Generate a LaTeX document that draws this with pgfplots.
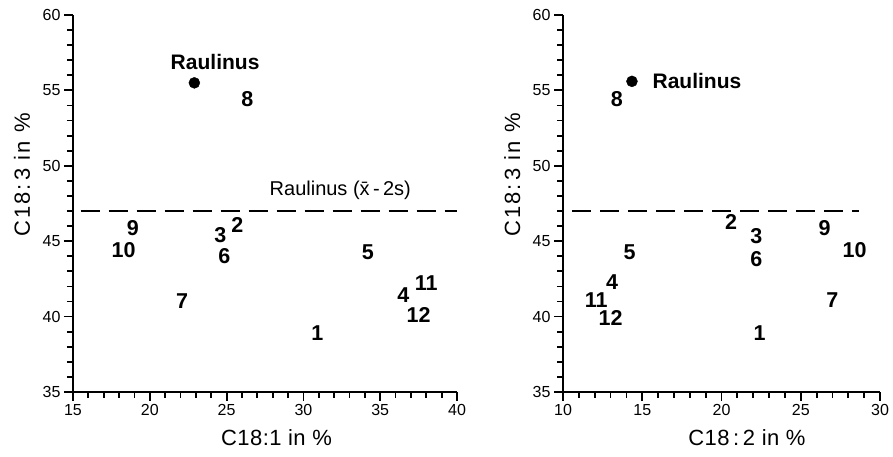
\documentclass[border=0pt]{standalone}
\usepackage{fontspec}
\setmainfont{Liberation Sans}
\usepackage{pgfplots}
\pgfplotsset{compat=1.18}
\newcommand{\lblfont}{\fontsize{22}{22}\selectfont\addfontfeatures{LetterSpace=9}}
\newcommand{\xlblfont}{\fontsize{22}{22}\selectfont\addfontfeatures{LetterSpace=2}}
\pgfplotsset{
  myax/.style={
    scale only axis, height=377pt,
    axis lines=left,
    axis line style={-, black, line width=2.8pt},
    tick style={black, line width=1.8pt},
    ymin=35, ymax=60, ytick={35,40,...,60}, minor y tick num=4, minor x tick num=4,
    tick align=outside, major tick length=9pt, minor tick length=6pt,
    tick label style={font=\fontsize{16}{16}\selectfont},
    /pgf/number format/assume math mode=true,
    clip=false,
    anchor=south west,
  },
  pts/.style={only marks, mark=none, nodes near coords, point meta=explicit symbolic,
    every node near coord/.style={anchor=center, inner sep=0pt, font=\fontsize{21.5}{21.5}\selectfont\bfseries}},
  dsh/.style={black, line width=2pt, dash pattern=on 19pt off 9pt},
}
\begin{document}
\begin{tikzpicture}
\useasboundingbox (0,0) rectangle (893pt,457pt);
% left
\begin{axis}[myax, at={(73pt,65pt)}, width=384pt,
  xmin=15, xmax=40, xtick={15,20,...,40},
  xlabel={C18:1 in \%}, ylabel={C18:\,3 in \%},
  every axis x label/.style={at={(axis description cs:0.53,-0.122)}, anchor=center, font=\xlblfont},
  every axis y label/.style={at={(axis description cs:-0.133,0.576)}, rotate=90, anchor=center, font=\lblfont}]
\addplot[pts] table[meta=label]{
x y label
30.9 38.9 1
25.7 46.1 2
24.6 45.4 3
36.5 41.4 4
34.2 44.3 5
24.85 44.0 6
22.1 41.0 7
26.35 54.4 8
18.9 45.9 9
18.3 44.4 10
38.0 42.2 11
37.5 40.1 12
};
\addplot[only marks, mark=*, mark size=5.5pt, black] coordinates {(22.9,55.5)};
\addplot[dsh] coordinates {(15.5,47) (40,47)};
\node[font=\fontsize{21}{21}\selectfont\bfseries] at (axis cs:24.25,56.9) {Raulinus};
\node[font=\fontsize{20}{20}\selectfont] at (axis cs:32.4,48.4) {Raulinus (\=x\,-\,2s)};
\end{axis}
% right
\begin{axis}[myax, at={(563pt,65pt)}, width=317pt,
  xmin=10, xmax=30, xtick={10,15,...,30},
  xlabel={C18\,:\,2 in \%}, ylabel={C18:\,3 in \%},
  every axis x label/.style={at={(axis description cs:0.58,-0.122)}, anchor=center, font=\xlblfont},
  every axis y label/.style={at={(axis description cs:-0.16,0.576)}, rotate=90, anchor=center, font=\lblfont}]
\addplot[pts] table[meta=label]{
x y label
22.4 38.9 1
20.6 46.3 2
22.2 45.35 3
13.1 42.3 4
14.2 44.3 5
22.2 43.8 6
27.0 41.1 7
13.4 54.4 8
26.5 45.9 9
28.4 44.4 10
12.1 41.1 11
13.0 39.9 12
};
\addplot[only marks, mark=*, mark size=5.5pt, black] coordinates {(14.35,55.6)};
\addplot[dsh] coordinates {(10.57,47) (28.7,47)};
\node[font=\fontsize{21}{21}\selectfont\bfseries, anchor=west] at (axis cs:15.43,55.6) {Raulinus};
\end{axis}
\end{tikzpicture}
\end{document}
